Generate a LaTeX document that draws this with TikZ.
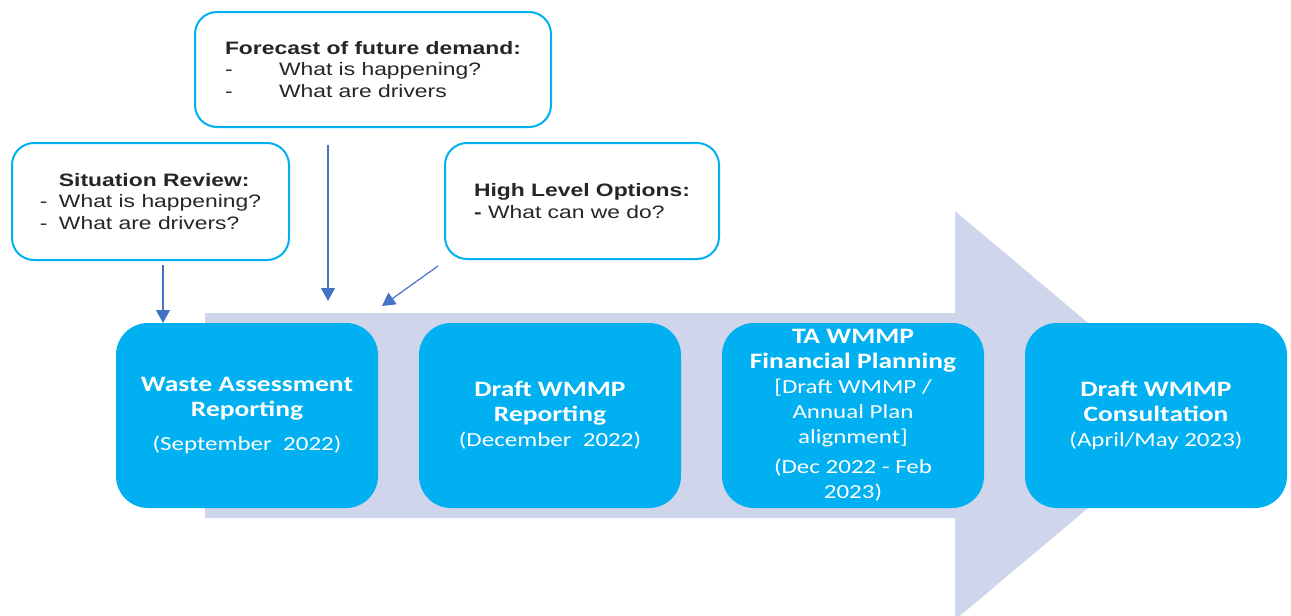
\documentclass[tikz,border=0pt]{standalone}
\usepackage{fontspec}
\setmainfont{Liberation Sans}[FakeStretch=1.27]
\newfontfamily\calfont{Carlito}[FakeStretch=1.25]
\usetikzlibrary{positioning,arrows.meta}
\definecolor{stageblue}{RGB}{0,176,240}
\definecolor{shaftgrey}{RGB}{207,213,234}
\definecolor{feedblue}{RGB}{68,114,196}
\newcommand{\hd}[1]{{\bfseries\fontsize{22}{25}\selectfont #1}}

\begin{document}
\begin{tikzpicture}[x=1pt,y=-1pt,
  callout/.style={draw=stageblue, line width=2pt, rounded corners=22pt, fill=white, align=left,
    font=\fontsize{18}{21.5}\selectfont, text=black!85},
  stage/.style={fill=stageblue, rounded corners=32pt, minimum width=262pt, minimum height=185pt,
    text=white, align=center, font=\calfont\fontsize{20}{25}\selectfont, outer sep=0pt},
  feed/.style={-{Triangle[width=14pt,length=13pt]}, draw=feedblue, line width=1.2pt}]
\useasboundingbox (0,0) rectangle (1291,616);

% Timeline arrow
\fill[shaftgrey] (205,313) -- (955,313) -- (955,211) -- (1198,415.5) -- (955,620) -- (955,518) -- (205,518) -- cycle;

% Define nodes
\node[stage] (waste) at (247,415.5) {\hd{Waste Assessment}\\\hd{Reporting}\\[9pt](September~~2022)};
\node[stage, right=41pt of waste] (draft) {\hd{Draft WMMP}\\\hd{Reporting}\\(December~~2022)};
\node[stage, right=41pt of draft] (finance) {\hd{TA WMMP}\\\hd{Financial Planning}\\{[}Draft WMMP /\\Annual Plan\\alignment{]}\\[5pt](Dec 2022 - Feb\\2023)};
\node[stage, right=41pt of finance] (consult) {\hd{Draft WMMP}\\\hd{Consultation}\\(April/May 2023)};

\node[callout, minimum width=277pt, minimum height=117pt] (situation) at (150.5,201.5)
  {\hspace*{19pt}\textbf{Situation Review:}\\\makebox[19pt][l]{-}What is happening?\\\makebox[19pt][l]{-}What are drivers?};
\node[callout, minimum width=356pt, minimum height=115pt] (forecast) at (373,69.5)
  {\textbf{Forecast of future demand:}\\\makebox[54pt][l]{-}What is happening?\\\makebox[54pt][l]{-}What are drivers\hspace*{8pt}};
\node[callout, minimum width=274pt, minimum height=116pt] (options) at (582,201)
  {\textbf{High Level Options:}\\\textbf{-} What can we do?};

% Draw arrows
\coordinate (sitfoot) at (163,265);
\coordinate (foretop) at (328,145);
\coordinate (forefoot) at (328,301);
\coordinate (opttop) at (438,266);
\coordinate (optfoot) at (382,306);
\draw[feed] (sitfoot) -- (sitfoot |- waste.north);
\draw[feed] (foretop) -- (forefoot);
\draw[feed] (opttop) -- (optfoot);

\end{tikzpicture}
\end{document}
